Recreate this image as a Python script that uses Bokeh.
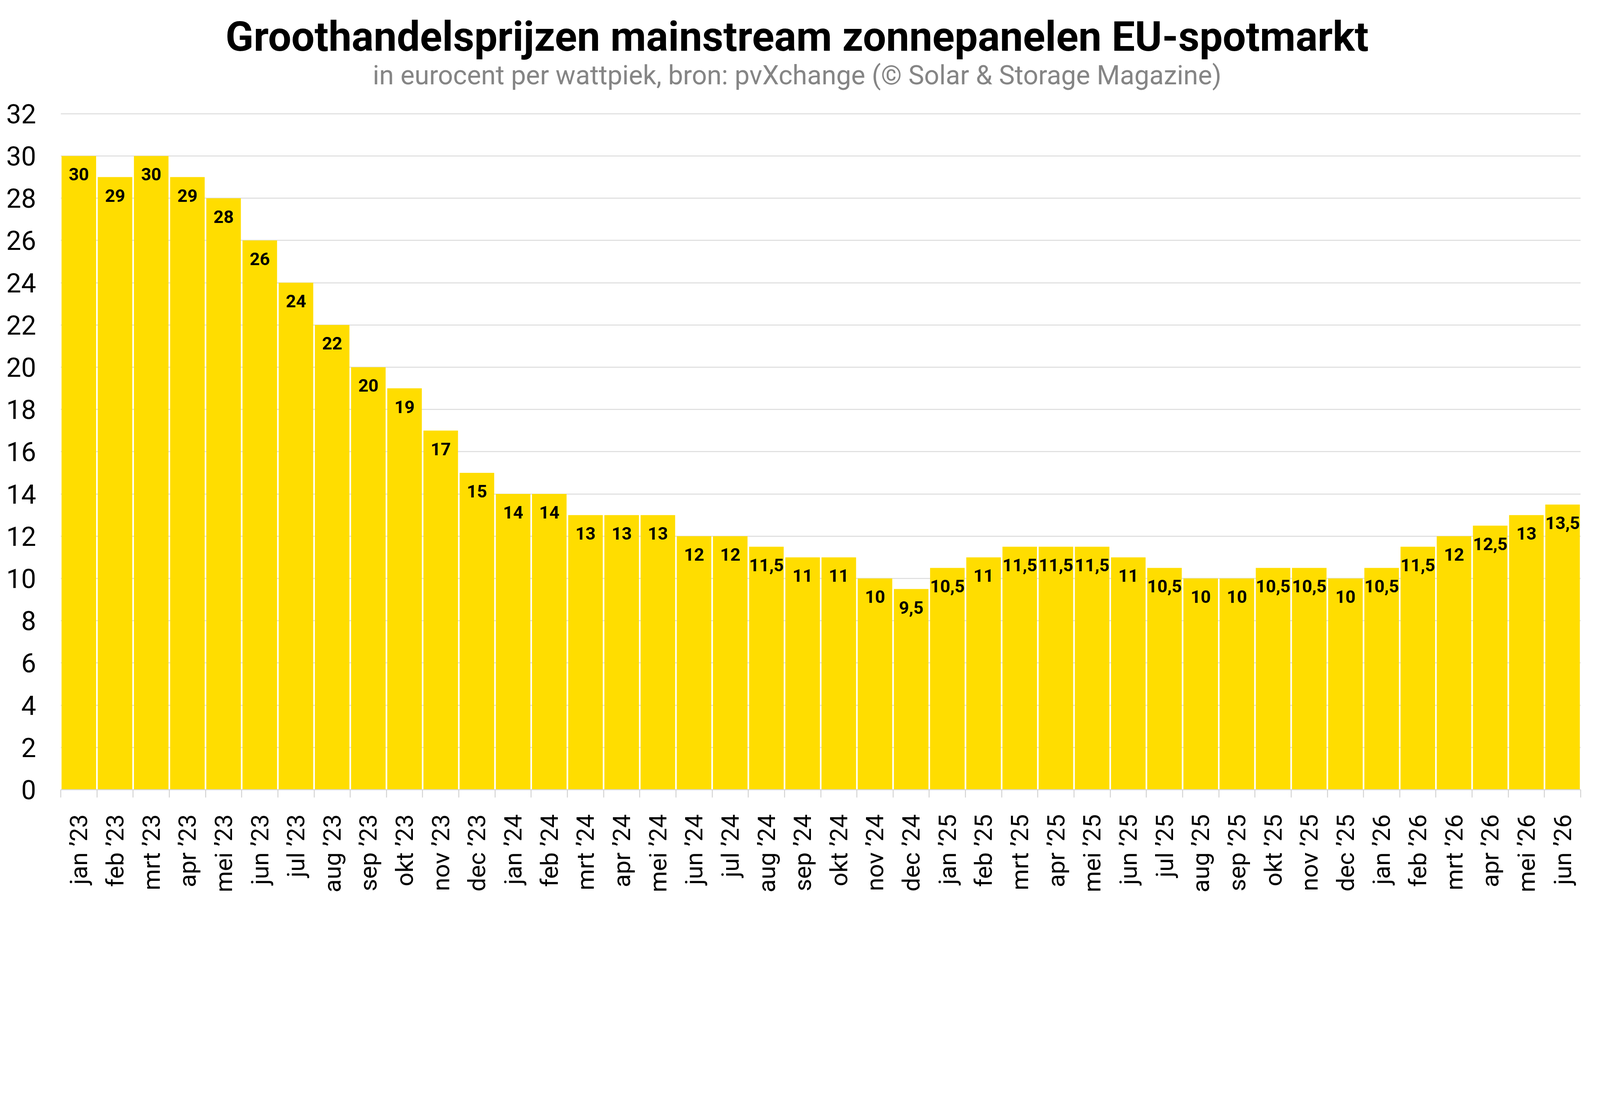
import math
import numpy as np
from bokeh.plotting import figure
from bokeh.models import Range1d, FixedTicker, Label, ColumnDataSource
from bokeh.core.properties import value
from bokeh.embed import file_html
from bokeh.resources import INLINE

# ---- data ----
title_text = "Groothandelsprijzen mainstream zonnepanelen EU-spotmarkt"
subtitle_text = "in eurocent per wattpiek, bron: pvXchange (\u00a9 Solar & Storage Magazine)"

months = [
    "jan \u201923", "feb \u201923", "mrt \u201923", "apr \u201923", "mei \u201923", "jun \u201923",
    "jul \u201923", "aug \u201923", "sep \u201923", "okt \u201923", "nov \u201923", "dec \u201923",
    "jan \u201924", "feb \u201924", "mrt \u201924", "apr \u201924", "mei \u201924", "jun \u201924",
    "jul \u201924", "aug \u201924", "sep \u201924", "okt \u201924", "nov \u201924", "dec \u201924",
    "jan \u201925", "feb \u201925", "mrt \u201925", "apr \u201925", "mei \u201925", "jun \u201925",
    "jul \u201925", "aug \u201925", "sep \u201925", "okt \u201925", "nov \u201925", "dec \u201925",
    "jan \u201926", "feb \u201926", "mrt \u201926", "apr \u201926", "mei \u201926", "jun \u201926",
]
prices = [
    30, 29, 30, 29, 28, 26, 24, 22, 20, 19, 17, 15,
    14, 14, 13, 13, 13, 12, 12, 11.5, 11, 11, 10, 9.5,
    10.5, 11, 11.5, 11.5, 11.5, 11, 10.5, 10, 10, 10.5, 10.5, 10,
    10.5, 11.5, 12, 12.5, 13, 13.5,
]
y_ticks = [0, 2, 4, 6, 8, 10, 12, 14, 16, 18, 20, 22, 24, 26, 28, 30, 32]
y_top = 32

# ---- layout (CSS px) ----
W, H = 4080, 2288
B_LEFT, B_RIGHT, B_TOP, B_BOTTOM = 155, 34, 10, 250
HEAD_PX = 283          # space between frame top and the 32-gridline
GRID_PX = H - B_TOP - B_BOTTOM - HEAD_PX
px_per_unit = GRID_PX / y_top
y_max = y_top + HEAD_PX / px_per_unit

FONT = "Roboto"
BAR = "#FFDD00"
GRID = "#dcdcdc"
AXIS = "#d4d4d4"

# ---- derived ----
n = len(months)
xc = np.arange(n) + 0.5
labels = [("%g" % v).replace(".", ",") for v in prices]
src = ColumnDataSource(dict(x=xc, y=prices, label=labels))

p = figure(
    width=W, height=H,
    output_backend="svg", toolbar_location=None,
    x_range=Range1d(0, n), y_range=Range1d(0, y_max),
    min_border_left=B_LEFT, min_border_right=B_RIGHT,
    min_border_top=B_TOP, min_border_bottom=B_BOTTOM,
)
p.outline_line_color = None
p.background_fill_color = "white"
p.border_fill_color = "white"

p.vbar(x="x", top="y", bottom=0, width=0.955, source=src,
       fill_color=BAR, line_color=None)

p.text(x="x", y="y", text="label", source=src,
       text_font=value(FONT), text_font_style="bold", text_font_size="45px",
       text_align="center", text_baseline="alphabetic", y_offset=47,
       text_color="black")

# x axis
xa = p.xaxis[0]
xa.ticker = FixedTicker(ticks=list(xc), minor_ticks=list(range(n + 1)))
xa.major_label_overrides = {float(x): m for x, m in zip(xc, months)}
xa.major_tick_line_color = None
xa.major_tick_out = 0
xa.major_tick_in = 0
xa.minor_tick_line_color = AXIS
xa.minor_tick_line_width = 2.5
xa.minor_tick_out = 20
xa.minor_tick_in = 0
xa.axis_line_color = AXIS
xa.axis_line_width = 2.5
xa.major_label_orientation = math.pi / 2
xa.major_label_standoff = 43
xa.major_label_text_font = FONT
xa.major_label_text_font_size = "62px"
xa.major_label_text_color = "black"

# y axis
ya = p.yaxis[0]
ya.ticker = FixedTicker(ticks=y_ticks)
ya.axis_line_color = None
ya.major_tick_line_color = None
ya.minor_tick_line_color = None
ya.major_tick_out = 0
ya.major_tick_in = 0
ya.major_label_standoff = 63
ya.major_label_text_font = FONT
ya.major_label_text_font_size = "68px"
ya.major_label_text_color = "black"

p.xgrid.grid_line_color = None
p.ygrid.grid_line_color = GRID
p.ygrid.grid_line_width = 2.5

# titles (centred on the page, placed in the head room above the 32 line)
frame_w = W - B_LEFT - B_RIGHT
x_mid = (W / 2 - B_LEFT) / frame_w * n
title_y = y_top + 199 / px_per_unit
sub_y = y_top + 99 / px_per_unit

p.add_layout(Label(x=x_mid, y=title_y,
                   text=title_text, text_font=FONT, text_font_style="bold",
                   text_font_size="105.5px", text_align="center",
                   text_baseline="alphabetic", text_color="black"))
p.add_layout(Label(x=x_mid, y=sub_y,
                   text=subtitle_text, text_font=FONT,
                   text_font_size="68px", text_align="center",
                   text_baseline="alphabetic", text_color="#858585"))

open("out.html", "w").write(file_html(p, INLINE))
